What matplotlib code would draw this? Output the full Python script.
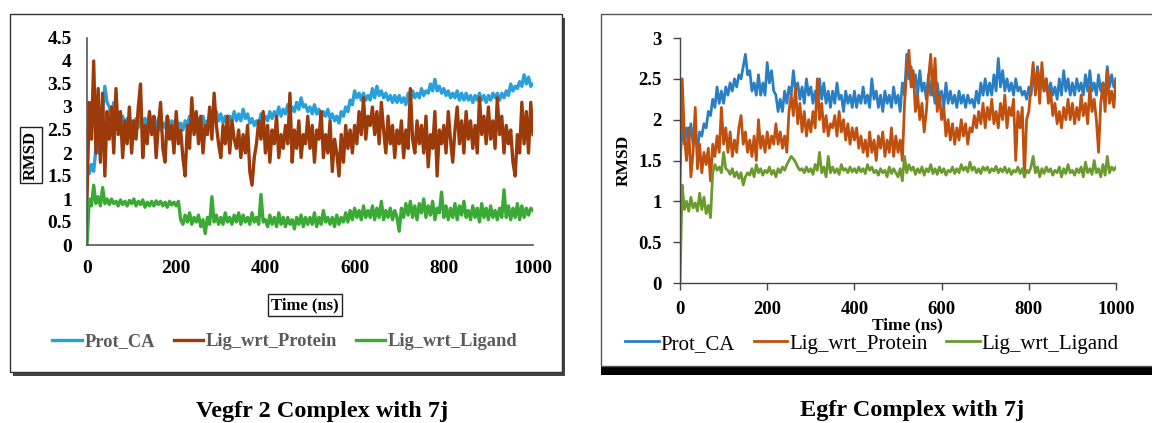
import numpy as np
import matplotlib
matplotlib.use("Agg")
import matplotlib.pyplot as plt
from matplotlib.patches import Rectangle

plt.rcParams['font.family'] = ['Liberation Serif', 'DejaVu Serif']

# ---- data (RMSD, one value every 5 ns, 0..1000) ----
vegfr_prot_ca = [1.8, 1.55, 1.75, 1.6, 2.1, 2.0, 2.7, 2.9, 3.45, 3.1,
                 3.0, 2.8, 3.1, 2.7, 2.85, 2.6, 2.8, 2.55, 2.75, 2.5,
                 2.7, 2.5, 2.75, 2.55, 2.9, 2.6, 2.75, 2.6, 2.85, 2.6,
                 2.7, 2.55, 2.75, 2.5, 2.65, 2.55, 2.8, 2.6, 2.7, 2.6,
                 2.75, 2.55, 2.65, 2.5, 2.7, 2.6, 2.8, 2.65, 2.85, 2.65,
                 2.75, 2.6, 2.8, 2.6, 2.7, 2.6, 2.85, 2.7, 2.9, 2.7,
                 2.85, 2.65, 2.8, 2.6, 2.8, 2.7, 2.9, 2.7, 2.85, 2.7,
                 2.95, 2.75, 2.85, 2.65, 2.75, 2.6, 2.7, 2.6, 2.85, 2.7,
                 2.8, 2.7, 2.9, 2.75, 2.9, 2.8, 3.0, 2.8, 2.95, 2.85,
                 3.05, 2.85, 3.0, 2.9, 3.1, 2.95, 3.2, 3.0, 3.05, 2.9,
                 3.0, 2.85, 3.05, 2.85, 2.95, 2.75, 2.9, 2.8, 2.95, 2.75,
                 2.85, 2.7, 2.8, 2.65, 2.9, 2.8, 3.0, 2.9, 3.15, 3.05,
                 3.35, 3.2, 3.3, 3.15, 3.3, 3.15, 3.25, 3.15, 3.4, 3.2,
                 3.45, 3.25, 3.35, 3.2, 3.3, 3.15, 3.25, 3.1, 3.25, 3.1,
                 3.25, 3.1, 3.2, 3.05, 3.3, 3.15, 3.35, 3.2, 3.3, 3.2,
                 3.4, 3.25, 3.35, 3.3, 3.5, 3.35, 3.6, 3.35, 3.45, 3.3,
                 3.4, 3.25, 3.35, 3.2, 3.3, 3.2, 3.35, 3.15, 3.3, 3.15,
                 3.3, 3.15, 3.25, 3.1, 3.25, 3.15, 3.3, 3.15, 3.25, 3.1,
                 3.25, 3.15, 3.3, 3.2, 3.3, 3.15, 3.3, 3.2, 3.35, 3.25,
                 3.5, 3.35, 3.45, 3.4, 3.55, 3.45, 3.7, 3.5, 3.65, 3.45,
                 3.5]
vegfr_lig_prot = [1.0, 3.1, 2.3, 4.0, 2.0, 3.4, 1.8, 3.3, 1.5, 2.9,
                  2.3, 3.0, 2.0, 3.4, 2.4, 2.9, 1.9, 2.7, 2.2, 3.0,
                  2.0, 2.7, 2.3, 3.0, 3.5, 1.9, 2.6, 2.2, 2.9, 2.4,
                  2.8, 1.9, 2.6, 3.1, 2.1, 1.8, 2.8, 2.3, 2.6, 2.0,
                  2.9, 2.2, 2.5, 1.9, 1.5, 2.6, 2.1, 3.2, 2.4, 2.9,
                  2.2, 2.8, 2.0, 2.6, 2.4, 3.0, 2.3, 3.3, 2.6, 2.2,
                  1.9, 2.6, 2.2, 2.8, 2.0, 2.7, 2.3, 2.1, 2.5, 1.9,
                  2.4, 2.0, 2.6, 1.6, 1.3, 1.9, 2.2, 2.7, 2.3, 2.9,
                  2.0, 2.6, 1.8, 2.5, 2.2, 2.8, 1.9, 2.4, 2.1, 2.6,
                  2.2, 3.3, 1.8, 2.5, 2.1, 2.7, 1.9, 2.4, 2.2, 2.8,
                  2.1, 2.6, 1.8, 2.5, 2.3, 2.9, 1.9, 2.4, 2.0, 2.7,
                  1.6, 2.3, 2.0, 1.5, 2.4, 1.8, 2.6, 2.1, 2.5, 2.0,
                  2.6, 2.2, 2.9, 2.4, 3.2, 2.3, 2.8, 2.6, 3.0, 2.4,
                  2.9, 2.2, 3.1, 2.5, 2.0, 2.8, 2.2, 2.6, 1.9, 2.5,
                  2.2, 2.7, 1.9, 2.5, 2.1, 3.4, 2.3, 2.0, 2.7, 2.2,
                  2.6, 2.0, 2.8, 1.7, 2.4, 2.1, 2.9, 1.5, 2.5, 2.2,
                  2.6, 2.0, 2.9, 2.3, 1.8, 2.5, 3.0, 2.2, 2.7, 2.0,
                  2.9, 2.3, 2.7, 2.1, 2.6, 2.0, 3.2, 2.4, 2.8, 2.2,
                  3.0, 2.3, 2.7, 2.1, 3.2, 2.4, 2.8, 2.0, 2.6, 2.2,
                  2.5, 1.8, 1.5, 2.4, 2.0, 3.1, 2.2, 2.9, 2.0, 3.1,
                  2.4]
vegfr_lig_lig = [0.0, 1.0, 0.85, 1.3, 0.9, 1.05, 0.85, 1.25, 0.9, 1.0,
                 0.88, 1.0, 0.9, 0.95, 0.85, 0.98, 0.88, 0.95, 0.85, 0.97,
                 0.9, 1.0, 0.85, 0.95, 0.88, 0.98, 0.82, 0.93, 0.85, 0.95,
                 0.85, 0.96, 0.88, 0.95, 0.85, 0.93, 0.82, 0.95, 0.87, 0.93,
                 0.85, 0.95, 0.55, 0.45, 0.65, 0.5, 0.7, 0.45, 0.6, 0.5,
                 0.65, 0.4, 0.55, 0.25, 0.6, 0.45, 1.05, 0.5, 0.65, 0.45,
                 0.6, 0.45, 0.7, 0.5, 0.6, 0.45, 0.65, 0.5, 0.7, 0.45,
                 0.65, 0.5, 0.6, 0.45, 0.7, 0.5, 0.6, 0.45, 1.1, 0.5,
                 0.55, 0.4, 0.65, 0.45, 0.6, 0.4, 0.7, 0.45, 0.6, 0.4,
                 0.6, 0.45, 0.55, 0.35, 0.6, 0.45, 0.65, 0.4, 0.6, 0.45,
                 0.6, 0.45, 0.7, 0.4, 0.6, 0.45, 0.75, 0.5, 0.6, 0.45,
                 0.6, 0.4, 0.65, 0.45, 0.6, 0.5, 0.7, 0.5, 0.75, 0.55,
                 0.8, 0.6, 0.75, 0.55, 0.85, 0.6, 0.75, 0.6, 0.85, 0.55,
                 0.8, 0.6, 0.95, 0.55, 0.75, 0.6, 0.8, 0.55, 0.75, 0.6,
                 0.3, 0.8, 0.6, 0.9, 0.65, 0.95, 0.6, 0.85, 0.55, 0.9,
                 0.7, 1.0, 0.6, 0.85, 0.65, 0.95, 0.55, 0.8, 0.7, 1.15,
                 0.6, 0.85, 0.55, 0.8, 0.6, 0.9, 0.55, 0.85, 0.65, 0.95,
                 0.6, 0.75, 0.55, 0.85, 0.6, 0.8, 0.5, 0.9, 0.6, 0.8,
                 0.55, 0.85, 0.6, 0.75, 0.55, 0.8, 0.6, 1.2, 0.6, 0.85,
                 0.55, 0.8, 0.6, 0.9, 0.55, 0.85, 0.6, 0.8, 0.65, 0.8,
                 0.75]

egfr_prot_ca = [1.45, 2.0, 1.7, 1.9, 1.75, 1.95, 1.7, 1.8, 1.65, 1.85,
                1.8, 1.95, 1.9, 2.1, 2.05, 2.25, 2.15, 2.4, 2.2, 2.35,
                2.2, 2.4, 2.3, 2.45, 2.35, 2.5, 2.4, 2.55, 2.5, 2.65,
                2.8, 2.55, 2.6, 2.35, 2.45, 2.3, 2.55, 2.3, 2.45, 2.3,
                2.7, 2.45, 2.6, 2.35, 2.3, 2.1, 2.25, 2.1, 2.35, 2.2,
                2.4, 2.3, 2.6, 2.35, 2.45, 2.25, 2.4, 2.2, 2.5, 2.3,
                2.4, 2.2, 2.35, 2.15, 2.5, 2.25, 2.45, 2.2, 2.35, 2.15,
                2.35, 2.2, 2.45, 2.25, 2.3, 2.1, 2.35, 2.2, 2.3, 2.15,
                2.35, 2.15, 2.3, 2.2, 2.4, 2.2, 2.3, 2.15, 2.5, 2.25,
                2.35, 2.15, 2.3, 2.1, 2.35, 2.2, 2.3, 2.15, 2.4, 2.2,
                2.3, 2.1, 2.45, 2.3, 2.8, 2.5, 2.65, 2.4, 2.55, 2.3,
                2.6, 2.35, 2.45, 2.25, 2.55, 2.3, 2.4, 2.2, 2.45, 2.25,
                2.35, 2.15, 2.45, 2.2, 2.35, 2.2, 2.3, 2.15, 2.35, 2.2,
                2.3, 2.15, 2.3, 2.2, 2.25, 2.15, 2.35, 2.2, 2.45, 2.3,
                2.5, 2.3, 2.45, 2.3, 2.55, 2.35, 2.75, 2.4, 2.6, 2.35,
                2.5, 2.35, 2.45, 2.3, 2.5, 2.35, 2.4, 2.3, 2.35, 2.25,
                2.4, 2.3, 2.55, 2.4, 2.65, 2.45, 2.55, 2.35, 2.5, 2.3,
                2.45, 2.3, 2.4, 2.25, 2.5, 2.3, 2.6, 2.35, 2.5, 2.3,
                2.45, 2.3, 2.5, 2.35, 2.45, 2.3, 2.55, 2.35, 2.6, 2.35,
                2.45, 2.3, 2.55, 2.35, 2.45, 2.3, 2.65, 2.4, 2.55, 2.4,
                2.5]
egfr_lig_prot = [1.2, 2.5, 1.8, 1.5, 1.9, 1.3, 1.6, 2.15, 1.4, 1.7,
                 1.35, 1.6, 1.45, 1.65, 1.25, 1.7, 1.55, 1.8, 1.6, 2.15,
                 1.7, 1.9, 1.6, 1.85, 1.55, 1.75, 1.6, 1.9, 2.05, 1.7,
                 1.85, 1.6, 1.75, 1.55, 1.8, 1.5, 2.0, 1.65, 1.8, 1.6,
                 1.85, 1.65, 1.8, 1.7, 1.95, 1.7, 1.85, 1.65, 1.8, 1.6,
                 2.1, 2.3, 2.05, 2.4, 1.95, 2.2, 1.85, 2.1, 1.8, 2.0,
                 1.85, 2.1, 1.9, 2.5, 2.0, 2.2, 1.85, 2.05, 1.8, 1.95,
                 1.9, 2.05, 1.8, 2.1, 1.85, 2.0, 1.75, 1.95, 1.7, 1.9,
                 1.75, 1.9, 1.65, 1.8, 1.6, 1.75, 1.55, 1.85, 1.6, 1.75,
                 1.5, 1.8, 1.65, 1.85, 1.55, 1.75, 1.6, 1.9, 1.55, 1.8,
                 1.6, 1.75, 1.5, 2.2, 2.6, 2.85, 2.4, 2.6, 2.1, 2.3,
                 2.0, 2.2, 1.85, 2.1, 2.5, 2.8, 2.3, 2.75, 2.1, 2.3,
                 2.0, 2.15, 1.8, 2.0, 1.75, 1.95, 1.7, 1.9, 1.75, 2.0,
                 1.8, 1.95, 1.7, 1.9, 1.85, 2.05, 1.9, 2.1, 1.95, 2.2,
                 1.9, 2.15, 2.0, 2.25, 1.95, 2.1, 1.9, 2.2, 2.0, 2.3,
                 1.9, 2.15, 2.05, 2.25, 1.5, 2.1, 1.9, 2.15, 1.3, 2.0,
                 2.1, 2.4, 2.7, 2.3, 2.6, 2.2, 2.7, 2.35, 2.5, 2.2,
                 2.35, 2.05, 2.2, 1.95, 2.1, 1.9, 2.15, 2.0, 2.25, 2.0,
                 2.2, 1.95, 2.15, 2.0, 2.3, 2.05, 2.2, 1.95, 2.4, 2.1,
                 2.25, 2.0, 1.6, 2.2, 2.45, 2.1, 2.6, 2.2, 2.35, 2.15,
                 2.5]
egfr_lig_lig = [0.0, 1.2, 0.9, 1.0, 0.88, 1.05, 0.92, 0.98, 0.88, 1.1,
                0.9, 1.05, 0.85, 0.95, 0.8, 1.35, 1.45, 1.38, 1.42, 1.35,
                1.6, 1.4, 1.38, 1.33, 1.4, 1.3, 1.36, 1.28, 1.35, 1.2,
                1.3, 1.35, 1.32, 1.4, 1.3, 1.45, 1.35, 1.4, 1.32, 1.38,
                1.35, 1.42, 1.33, 1.38, 1.3, 1.4, 1.35, 1.42, 1.38, 1.45,
                1.5, 1.55, 1.52, 1.48, 1.42, 1.38, 1.4, 1.35, 1.42, 1.36,
                1.4, 1.33, 1.45, 1.38, 1.6, 1.35, 1.42, 1.3, 1.55, 1.35,
                1.42, 1.35, 1.4, 1.33, 1.45, 1.38, 1.4, 1.35, 1.42, 1.36,
                1.4, 1.35, 1.42, 1.36, 1.4, 1.34, 1.45, 1.38, 1.42, 1.35,
                1.38, 1.32, 1.4, 1.35, 1.38, 1.3, 1.42, 1.34, 1.4, 1.35,
                1.3, 1.4, 1.25, 1.55, 1.35, 1.45, 1.38, 1.42, 1.33, 1.4,
                1.35, 1.42, 1.32, 1.4, 1.36, 1.45, 1.34, 1.4, 1.33, 1.42,
                1.35, 1.4, 1.32, 1.38, 1.36, 1.42, 1.34, 1.4, 1.35, 1.45,
                1.38, 1.42, 1.36, 1.48, 1.38, 1.42, 1.35, 1.4, 1.34, 1.42,
                1.38, 1.42, 1.35, 1.4, 1.37, 1.43, 1.35, 1.4, 1.36, 1.42,
                1.35, 1.4, 1.33, 1.38, 1.36, 1.42, 1.34, 1.4, 1.3, 1.38,
                1.35, 1.42, 1.55, 1.35, 1.42, 1.3, 1.4, 1.34, 1.42, 1.36,
                1.4, 1.32, 1.38, 1.35, 1.42, 1.3, 1.4, 1.34, 1.45, 1.35,
                1.38, 1.32, 1.4, 1.35, 1.42, 1.3, 1.48, 1.35, 1.4, 1.33,
                1.5, 1.35, 1.4, 1.3, 1.45, 1.32, 1.55, 1.35, 1.42, 1.38,
                1.42]

labels = ['Prot_CA', 'Lig_wrt_Protein', 'Lig_wrt_Ligand']
vegfr_colors = ['#27a0dc', '#9c3a0a', '#3aaa35']
egfr_colors = ['#2a7ec3', '#c0500e', '#6b9b2f']


def times(series):
    return np.linspace(0, 1000, len(series))


fig = plt.figure(figsize=(11.52, 4.23), dpi=100)

# panel frames (drawn behind the axes)
fig.patches.append(Rectangle((13 / 1152, 1 - 376 / 423), 552 / 1152, 358 / 423,
                             transform=fig.transFigure, facecolor='#444444',
                             edgecolor='none', zorder=-2))
fig.patches.append(Rectangle((10 / 1152, 1 - 372 / 423), 552 / 1152, 358 / 423,
                             transform=fig.transFigure, facecolor='white',
                             edgecolor='#333333', linewidth=1, zorder=-1))
fig.patches.append(Rectangle((601 / 1152, 1 - 375 / 423), 0.5, 9 / 423,
                             transform=fig.transFigure, facecolor='black',
                             edgecolor='none', zorder=-2))
fig.patches.append(Rectangle((601 / 1152, 1 - 366 / 423), 0.5, 352 / 423,
                             transform=fig.transFigure, facecolor='white',
                             edgecolor='#555555', linewidth=1, zorder=-1))

# ---- left: Vegfr 2 ----
ax1 = fig.add_axes([87 / 1152, 1 - 245 / 423, 446 / 1152, 207 / 423])
ax1.set_facecolor('none')
for s, c, lab in zip([vegfr_prot_ca, vegfr_lig_prot, vegfr_lig_lig], vegfr_colors, labels):
    ax1.plot(times(s), s, color=c, linewidth=2.4, label=lab)
ax1.set_xlim(0, 1000)
ax1.set_ylim(0, 4.5)
ax1.set_yticks(np.arange(0, 4.51, 0.5))
ax1.set_yticklabels(['0', '0.5', '1', '1.5', '2', '2.5', '3', '3.5', '4', '4.5'])
ax1.set_xticks([0, 200, 400, 600, 800, 1000])
ax1.tick_params(length=0, labelsize=14, pad=11)
for t in ax1.get_xticklabels() + ax1.get_yticklabels():
    t.set_fontweight('bold')
for side in ['top', 'right']:
    ax1.spines[side].set_visible(False)
for side in ['left', 'bottom']:
    ax1.spines[side].set_color('#555555')
    ax1.spines[side].set_linewidth(1.2)
fig.text(305 / 1152, 1 - 305 / 423, 'Time (ns)', ha='center', va='center',
         fontsize=12, fontweight='bold',
         bbox=dict(boxstyle='square,pad=0.2', facecolor='white', edgecolor='#222222', linewidth=1))
fig.text(31 / 1152, 1 - 155 / 423, 'RMSD', ha='center', va='center', rotation=90,
         fontsize=12, fontweight='bold',
         bbox=dict(boxstyle='square,pad=0.2', facecolor='white', edgecolor='#222222', linewidth=1))
leg1 = ax1.legend(loc='center', bbox_to_anchor=(285 / 1152, 1 - 342 / 423),
                  bbox_transform=fig.transFigure, ncol=3, frameon=False,
                  handlelength=1.6, handletextpad=0.15, columnspacing=1.0,
                  prop={'weight': 'bold', 'size': 13.3})
for t in leg1.get_texts():
    t.set_color('#5a5a5a')
fig.text(322 / 1152, 1 - 411 / 423, 'Vegfr 2 Complex with 7j', ha='center', va='center',
         fontsize=17.5, fontweight='bold')

# ---- right: Egfr ----
ax2 = fig.add_axes([680 / 1152, 1 - 283 / 423, 436 / 1152, 245 / 423])
ax2.set_facecolor('none')
for s, c, lab in zip([egfr_prot_ca, egfr_lig_prot, egfr_lig_lig], egfr_colors, labels):
    ax2.plot(times(s), s, color=c, linewidth=2.0, label=lab)
ax2.set_xlim(0, 1000)
ax2.set_ylim(0, 3)
ax2.set_yticks(np.arange(0, 3.01, 0.5))
ax2.set_yticklabels(['0', '0.5', '1', '1.5', '2', '2.5', '3'])
ax2.set_xticks([0, 200, 400, 600, 800, 1000])
ax2.tick_params(length=5, width=1, color='#444444', labelsize=13.5, pad=8)
for t in ax2.get_xticklabels() + ax2.get_yticklabels():
    t.set_fontweight('bold')
for side in ['top', 'right']:
    ax2.spines[side].set_visible(False)
for side in ['left', 'bottom']:
    ax2.spines[side].set_color('#444444')
    ax2.spines[side].set_linewidth(1.0)
fig.text(907 / 1152, 1 - 325 / 423, 'Time (ns)', ha='center', va='center',
         fontsize=12.5, fontweight='bold')
fig.text(624 / 1152, 1 - 160 / 423, 'RMSD', ha='center', va='center', rotation=90,
         fontsize=12.5, fontweight='bold')
ax2.legend(loc='center', bbox_to_anchor=(872 / 1152, 1 - 344 / 423),
           bbox_transform=fig.transFigure, ncol=3, frameon=False,
           handlelength=1.6, handletextpad=0.1, columnspacing=0.9,
           prop={'size': 15})
fig.text(912 / 1152, 1 - 410 / 423, 'Egfr Complex with 7j', ha='center', va='center',
         fontsize=17.5, fontweight='bold')

fig.savefig('out.png', dpi=100)
